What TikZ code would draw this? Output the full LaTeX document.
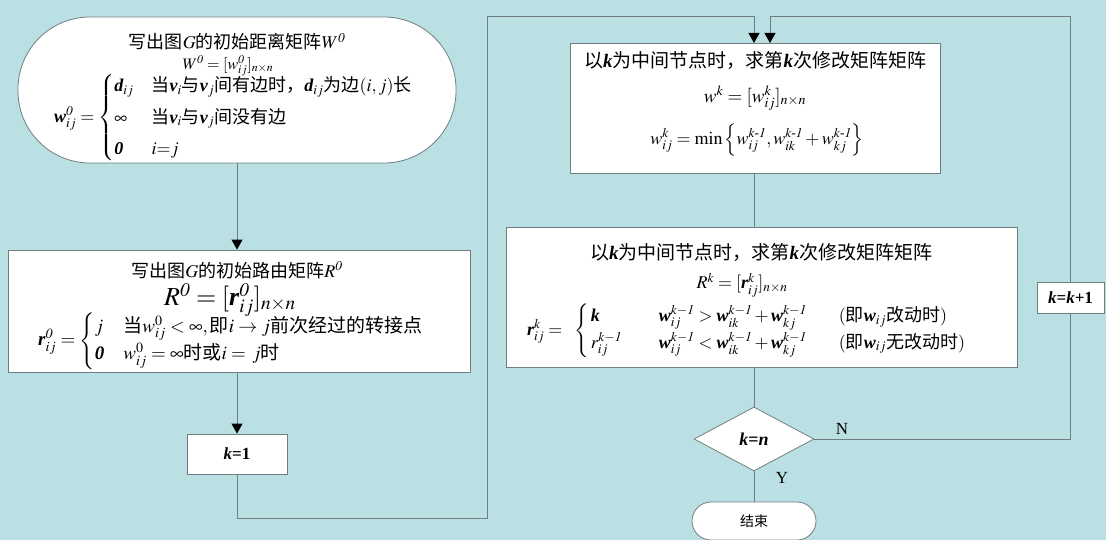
\documentclass[tikz,border=0pt]{standalone}
\usepackage{amsmath}
\usepackage{mathptmx}
\usepackage{array}
\usepackage{fontspec}
\setmainfont{Liberation Serif}
\newfontfamily\cjk{Noto Sans CJK SC}
\usetikzlibrary{arrows.meta,shapes.geometric}
\definecolor{bgc}{HTML}{BBE0E3}
\definecolor{lnc}{HTML}{6F7F80}
\newcommand{\zh}[1]{\text{\cjk #1}}
\newcommand{\bs}[1]{\text{\normalfont\bfseries\itshape #1}}
\newcommand{\bk}{{\normalfont\bfseries\itshape k}}
\begin{document}
\begin{tikzpicture}[x=1pt,y=-1pt,
  box/.style={draw=lnc, fill=white, line width=0.8pt, inner sep=0pt},
  conn/.style={draw=lnc, line width=0.9pt},
  arr/.style={conn, -{Triangle[width=11pt,length=10pt,color=black]}},
  txt/.style={inner sep=0pt, font=\fontsize{18}{21}\selectfont}]
\fill[bgc] (0,0) rectangle (1106,540);
\useasboundingbox (0,0) rectangle (1106,540);

% boxes
\node[box, minimum width=438pt, minimum height=146pt, rounded corners=72pt] (start) at (237,90) {};
\node[box, minimum width=462pt, minimum height=122pt] (rbox) at (239,311) {};
\node[box, minimum width=100pt, minimum height=40pt] (k1) at (237,454) {};
\node[box, minimum width=370pt, minimum height=130pt] (wk) at (755,108) {};
\node[box, minimum width=511pt, minimum height=140pt] (rk) at (761.5,297) {};
\node[diamond, draw=lnc, fill=white, line width=0.8pt, inner sep=0pt, aspect=1.875,
      minimum width=120pt, minimum height=64pt] (dia) at (754,439) {};
\node[box, minimum width=124pt, minimum height=38pt, rounded corners=19pt] (end) at (754,521) {};

% texts
\node[txt] (t1) at (237,42) {\cjk 写出图$G$的初始距离矩阵$W^{\mathit{0}}$};
\node[txt, font=\fontsize{16}{18}\selectfont] (t2) at (228,66) {$W^{\mathit{0}}=[w^{\mathit{0}}_{ij}]_{n\times n}$};
\node[txt, anchor=west, font=\fontsize{18}{21}\selectfont] (t3) at (54,118)
  {$\bs{w}^{\mathit{0}}_{ij}=\begin{cases}\bs{d}_{ij}&\zh{当}\bs{v}_i\zh{与}\bs{v}_j\zh{间有边时，}\bs{d}_{ij}\zh{为边}(i,j)\zh{长}\\[6pt]
   \infty & \zh{当}\bs{v}_i\zh{与}\bs{v}_j\zh{间没有边}\\[6pt]
   \bs{0} & i{=}j\end{cases}$};

\node[txt] (t4) at (237,270) {\cjk 写出图$G$的初始路由矩阵$R^{\mathit{0}}$};
\node[txt, font=\fontsize{26}{30}\selectfont] (t5) at (230,300) {$R^{\mathit{0}}=[\bs{r}^{\mathit{0}}_{ij}]_{n\times n}$};
\node[txt, anchor=west, font=\fontsize{19}{22}\selectfont] (t6) at (38,341)
  {$\bs{r}^{\mathit{0}}_{ij}=\begin{cases}j&\zh{当}w^{0}_{ij}<\infty,\zh{即}i\to j\zh{前次经过的转接点}\\[1pt]
   \bs{0}& w^{0}_{ij}=\infty\zh{时或}i=\,j\zh{时}\end{cases}$};

\node[txt, font=\fontsize{17}{20}\selectfont] (t7) at (237,454) {\textbf{\textit{k}=1}};

\node[txt, font=\fontsize{19}{22}\selectfont] (t8) at (755,60) {\cjk 以\bk 为中间节点时，求第\bk 次修改矩阵矩阵};
\node[txt, font=\fontsize{19}{22}\selectfont] (t9) at (755,98) {$w^{k}=[w^{k}_{ij}]_{n\times n}$};
\node[txt, font=\fontsize{18}{21}\selectfont] (t10) at (757,140)
  {$w^{k}_{ij}=\min\left\{w^{k\text{-}\mathit{1}}_{ij},w^{k\text{-}\mathit{1}}_{ik}+w^{k\text{-}\mathit{1}}_{kj}\right\}$};

\node[txt, font=\fontsize{19}{22}\selectfont] (t11) at (761,252) {\cjk 以\bk 为中间节点时，求第\bk 次修改矩阵矩阵};
\node[txt, font=\fontsize{18}{21}\selectfont] (t12) at (742,285) {$R^{k}=[\bs{r}^{k}_{ij}]_{n\times n}$};
\node[txt, anchor=west, font=\fontsize{18}{21}\selectfont] (t13) at (527,331)
  {$\bs{r}^{k}_{ij}=\hspace{8pt}\left\{\begin{array}{@{\,}l@{}l@{}l@{}}
   \makebox[68pt][l]{$\bs{k}$} & \makebox[180pt][l]{$\bs{w}^{k-\mathit{1}}_{ij}>\bs{w}^{k-\mathit{1}}_{ik}+\bs{w}^{k-\mathit{1}}_{kj}$} & (\zh{即}\bs{w}_{ij}\zh{改动时})\\[4pt]
   \makebox[68pt][l]{$r^{k-\mathit{1}}_{ij}$} & \makebox[180pt][l]{$\bs{w}^{k-\mathit{1}}_{ij}<\bs{w}^{k-\mathit{1}}_{ik}+\bs{w}^{k-\mathit{1}}_{kj}$} & (\zh{即}\bs{w}_{ij}\zh{无改动时})
   \end{array}\right.$};

\node[txt, font=\fontsize{18}{21}\selectfont] (t14) at (754,439) {\textbf{\textit{k}=\textit{n}}};
\node[txt, font=\fontsize{14}{16}\selectfont\cjk] (t15) at (754,521) {结束};
\node[txt, font=\fontsize{17}{20}\selectfont] (lN) at (842,429) {N};
\node[txt, font=\fontsize{17}{20}\selectfont] (lY) at (782,478) {Y};

% connectors
\coordinate (c1) at (487,518);
\coordinate (c2) at (487,16);
\coordinate (in1) at (754,43);
\coordinate (in2) at (770,43);
\coordinate (c3) at (1070,16);
\draw[arr] (start.south) -- (start.south |- rbox.north);
\draw[arr] (start.south |- rbox.south) -- (k1.north);
\draw[arr] (k1.south) |- (c1) -- (c2) -| (in1);
\draw[conn] (in1 |- wk.south) -- (in1 |- rk.north);
\draw[conn] (in1 |- rk.south) -- (dia.north);
\draw[conn] (dia.south) -- (end.north);
\draw[arr] (dia.east) -| (c3) -| (in2);

\node[box, minimum width=67pt, minimum height=31pt, font=\fontsize{17}{20}\selectfont] (kk1) at (1070.5,297.5) {\textbf{\textit{k}=\textit{k}+1}};
\end{tikzpicture}
\end{document}
